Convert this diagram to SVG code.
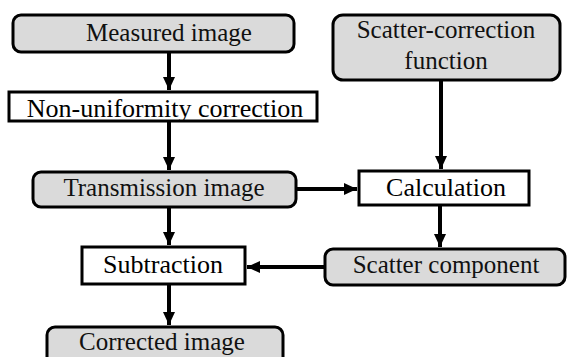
<svg xmlns="http://www.w3.org/2000/svg" width="567" height="357" viewBox="0 0 567 357">
<defs>
<marker id="ah" markerUnits="userSpaceOnUse" markerWidth="14" markerHeight="14" viewBox="0 0 14 14" refX="13" refY="7" orient="auto">
<path d="M0,1 L13,7 L0,13 Z" fill="#000"/>
</marker>
<style>
.g{fill:#dadada;stroke:#000;stroke-width:3}
.w{fill:#fff;stroke:#000;stroke-width:3}
text{font-family:'Liberation Serif','Times New Roman',Times,serif;text-anchor:middle}
.t{font-size:25px;fill:#111}
.tw{font-size:26px;fill:#000}
.c{stroke:#000;stroke-width:4;fill:none;marker-end:url(#ah)}
</style>
</defs>
<rect width="567" height="357" fill="#fff"/>
<g id="measured">
<rect class="g" x="13" y="15" width="281" height="37" rx="8"/>
<text class="t" x="169" y="41" font-family="Liberation Serif, serif">Measured image</text>
</g>
<g id="nonuniformity">
<rect class="w" x="9" y="92" width="308" height="29"/>
<text class="tw" x="165" y="117" font-family="Liberation Serif, serif">Non-uniformity correction</text>
</g>
<g id="transmission">
<rect class="g" x="33" y="172" width="263" height="35" rx="8"/>
<text class="t" x="164" y="196" font-family="Liberation Serif, serif">Transmission image</text>
</g>
<g id="scatterfunction">
<rect class="g" x="333" y="15" width="227" height="65" rx="10"/>
<text class="t" x="446" y="38" font-family="Liberation Serif, serif">Scatter-correction</text>
<text class="t" x="446" y="69" font-family="Liberation Serif, serif">function</text>
</g>
<g id="calculation">
<rect class="w" x="359" y="171" width="170" height="34"/>
<text class="tw" x="446" y="196" font-family="Liberation Serif, serif">Calculation</text>
</g>
<g id="scattercomponent">
<rect class="g" x="325" y="249" width="240" height="36" rx="8"/>
<text class="t" x="446" y="273" font-family="Liberation Serif, serif">Scatter component</text>
</g>
<g id="subtraction">
<rect class="w" x="82" y="247" width="163" height="37"/>
<text class="tw" x="163" y="273" font-family="Liberation Serif, serif">Subtraction</text>
</g>
<g id="corrected">
<rect class="g" x="47" y="327" width="236" height="40" rx="8"/>
<text class="t" x="162" y="350" font-family="Liberation Serif, serif">Corrected image</text>
</g>
<g id="connectors">
<line class="c" x1="169" y1="53" x2="169" y2="90"/>
<line class="c" x1="169" y1="122" x2="169" y2="170"/>
<line class="c" x1="441" y1="81" x2="441" y2="169"/>
<line class="c" x1="297" y1="189" x2="357" y2="189"/>
<line class="c" x1="440" y1="206" x2="440" y2="247"/>
<line class="c" x1="169" y1="208" x2="169" y2="245"/>
<line class="c" x1="324" y1="267" x2="247" y2="267"/>
<line class="c" x1="169" y1="285" x2="169" y2="325"/>
</g>
</svg>
